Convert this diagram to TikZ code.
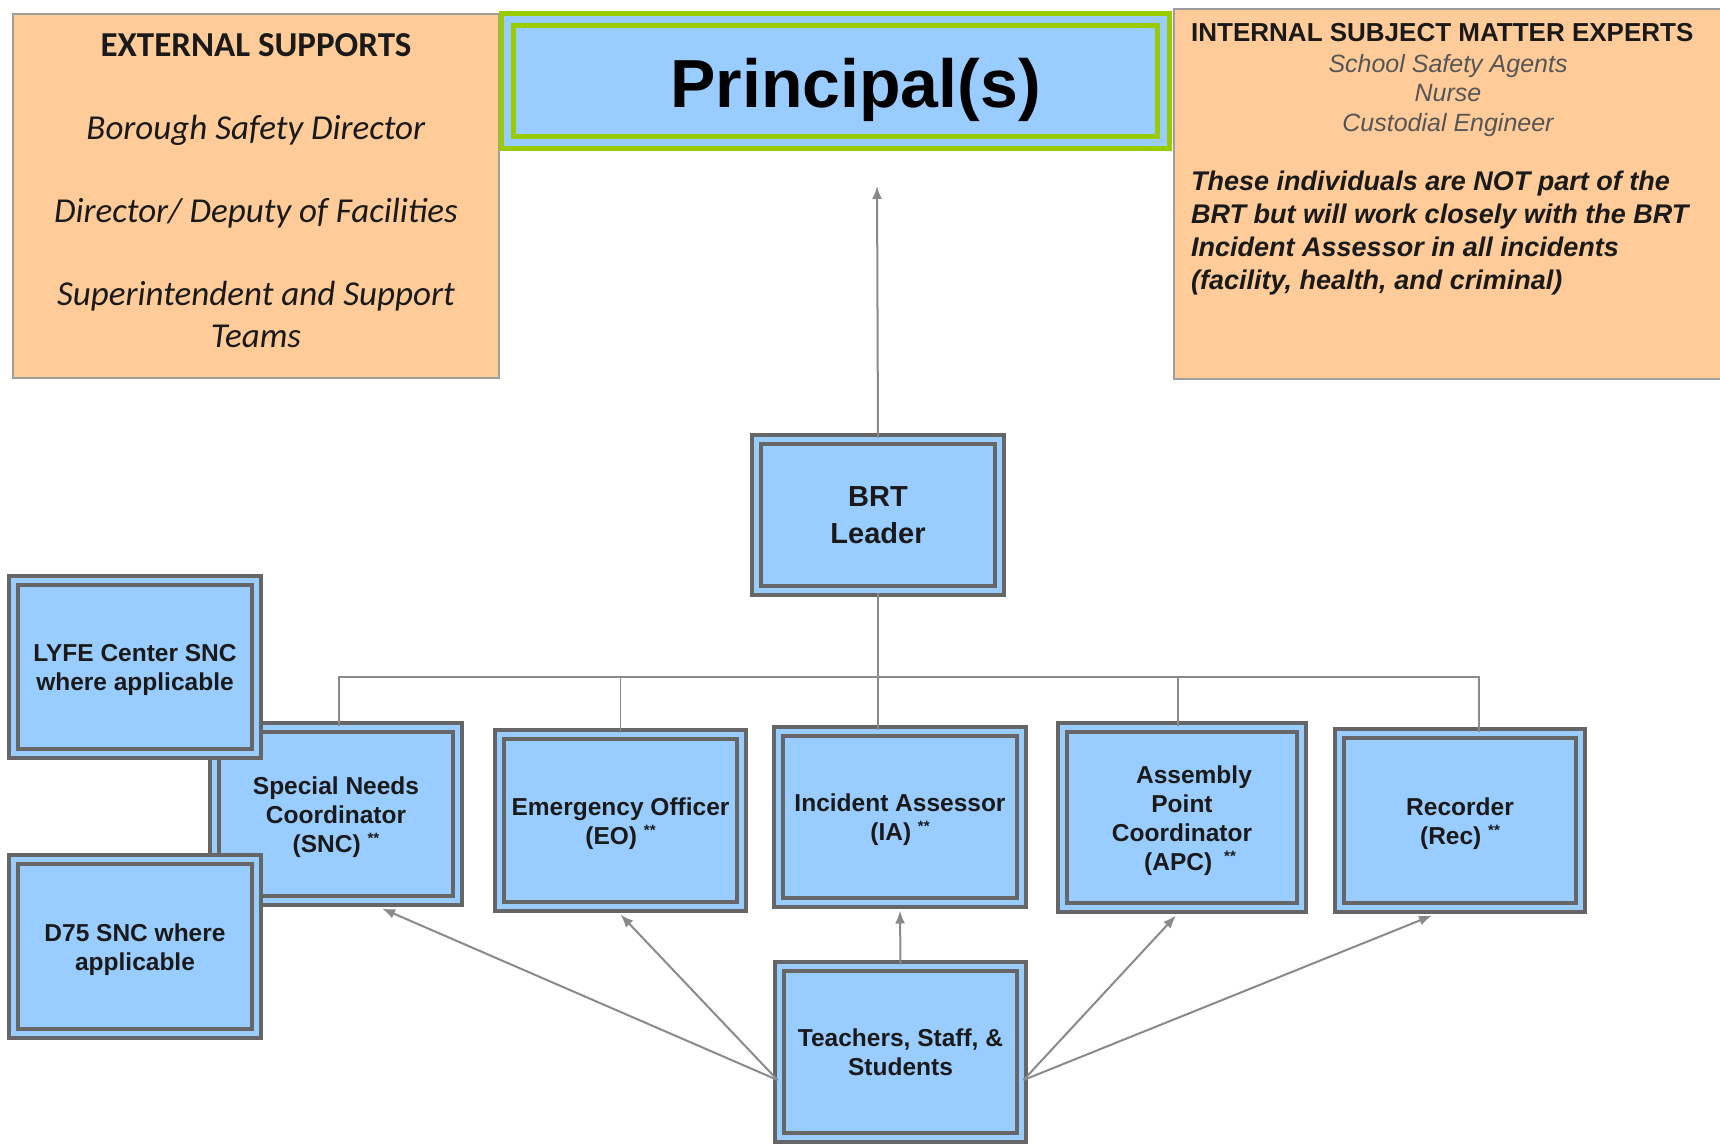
\documentclass[tikz,border=0pt]{standalone}
\usepackage{fontspec}
\setmainfont{Liberation Sans}
\newfontfamily\carlito{Carlito}
\usetikzlibrary{calc,arrows.meta}
\definecolor{boxblue}{HTML}{99CCFF}
\definecolor{boxgray}{HTML}{666666}
\definecolor{peach}{HTML}{FFCC99}
\definecolor{peachline}{HTML}{9E9E9E}
\definecolor{pgreen}{HTML}{99CC00}
\definecolor{linkgray}{HTML}{8A8A8A}
\definecolor{txt}{HTML}{1A1A1A}
\definecolor{softgray}{HTML}{555555}
\newcommand\fs[2]{\fontsize{#1pt}{#2pt}\selectfont}
\newcommand\stars{\raisebox{9pt}{\fs{15}{15}**}}
\newcommand\tp{\rule{0pt}{24pt}}
\begin{document}
\begin{tikzpicture}[x=1pt,y=-1pt,
  role/.style={draw=boxgray, line width=4pt, double=boxblue, double distance=5pt,
    fill=boxblue, align=center, inner sep=0pt, text=txt, font=\bfseries\fs{24.5}{29}},
  chief/.style={draw=pgreen, line width=5pt, double=boxblue, double distance=7pt,
    fill=boxblue, inner sep=0pt, text=black, font=\bfseries\fs{68}{70}},
  infobox/.style={draw=peachline, line width=2pt, fill=peach},
  link/.style={draw=linkgray, line width=1.5pt},
  feed/.style={draw=linkgray, line width=2pt, -{Latex[length=13pt,width=10pt]}},
  ln/.style={anchor=base, inner sep=0pt, text=txt},
]
\useasboundingbox (0,0) rectangle (1720,1146);
\clip (0,0) rectangle (1720,1146);

% external supports
\node[infobox, minimum width=486pt, minimum height=364pt] (ext) at (256,196) {};
\node[align=center, inner sep=0pt, text=txt, font=\carlito\fs{35}{42}] (exttxt) at (256,191)
  {\textbf{EXTERNAL SUPPORTS}\\[41pt]
   \textit{Borough Safety Director}\\[41pt]
   \textit{Director/ Deputy of Facilities}\\[41pt]
   \textit{Superintendent and Support}\\
   \textit{Teams}};

% internal experts
\node[infobox, minimum width=560pt, minimum height=370pt, anchor=north west] (int) at (1173,8) {};
\node[ln, anchor=base west, font=\bfseries\fs{26}{30}] (intt) at (1191,41) {INTERNAL SUBJECT MATTER EXPERTS};
\node[ln, text=softgray, font=\itshape\fs{25}{29}] (ssa) at (1448,72) {School Safety Agents};
\node[ln, text=softgray, font=\itshape\fs{25}{29}] (nurse) at (1448,101) {Nurse};
\node[ln, text=softgray, font=\itshape\fs{25}{29}] (cust) at (1448,131) {Custodial Engineer};
\node[ln, anchor=base west, font=\bfseries\itshape\fs{27}{33}] (p1) at (1191,190) {These individuals are NOT part of the};
\node[ln, anchor=base west, font=\bfseries\itshape\fs{27}{33}] (p2) at (1191,223) {BRT but will work closely with the BRT};
\node[ln, anchor=base west, font=\bfseries\itshape\fs{27}{33}] (p3) at (1191,256) {Incident Assessor in all incidents};
\node[ln, anchor=base west, font=\bfseries\itshape\fs{27}{33}] (p4) at (1191,289) {(facility, health, and criminal)};

% principal
\node[chief, minimum width=656pt, minimum height=123pt] (pr) at (835.5,81)
  {\hspace*{40pt}\raisebox{-9pt}[\height][\depth]{Principal(s)}};
\coordinate (ptip) at (877,186);

% BRT leader
\node[role, minimum width=243pt, minimum height=151pt, font=\bfseries\fs{29}{37}] (brt) at (878,515) {BRT\\Leader};

% roles
\node[role, minimum width=243pt, minimum height=173pt] (snc) at (336,814) {\tp Special Needs\\Coordinator\\(SNC) \stars};
\node[role, minimum width=243pt, minimum height=173pt] (lyfe) at (135,667) {\tp LYFE Center SNC\\where applicable};
\node[role, minimum width=243pt, minimum height=174pt] (d75) at (135,946.5) {\tp D75 SNC where\\applicable};
\node[role, minimum width=242pt, minimum height=172pt] (eo) at (620.5,820.5) {\tp Emergency Officer\\(EO) \stars};
\node[role, minimum width=243pt, minimum height=171pt] (ia) at (900,817) {\tp Incident Assessor\\(IA) \stars};
\node[role, minimum width=239pt, minimum height=180pt] (apc) at (1182,817.5) {\tp\hspace*{24pt}Assembly\\Point\\Coordinator\\\hspace*{16pt}(APC)\hspace{12pt}\stars};
\node[role, minimum width=241pt, minimum height=174pt] (rec) at (1460,820.5) {\tp Recorder\\(Rec) \stars};
\node[role, minimum width=242pt, minimum height=171pt] (tss) at (900.5,1052) {Teachers, Staff, \&\\Students};

% hierarchy lines
\draw[feed] (brt.north) -- (ptip);
\coordinate (bus) at (0,677);
\coordinate (sncTop) at ($(snc.north)+(3,0)$);
\coordinate (recTop) at ($(rec.north)+(19,0)$);
\coordinate (apcTop) at ($(apc.north)+(-4,0)$);
\draw[link] (brt.south) -- (brt.south |- ia.north);
\draw[link] (sncTop) -- (sncTop |- bus) -- (recTop |- bus) -- (recTop);
\draw[link] (eo.north |- bus) -- (eo.north);
\draw[link] (apcTop |- bus) -- (apcTop);

% feeds from teachers
\coordinate (tssL) at ($(tss.west)+(0,28)$);
\coordinate (tssR) at ($(tss.east)+(0,28)$);
\draw[feed] (tssL) -- ($(snc.south)+(46,6)$);
\draw[feed] (tssL) -- ($(eo.south)+(0,6)$);
\draw[feed] (tss.north) -- ($(ia.south)+(0,6)$);
\draw[feed] (tssR) -- ($(apc.south)+(-6,6)$);
\draw[feed] (tssR) -- ($(rec.south)+(-28,6)$);
\end{tikzpicture}
\end{document}
